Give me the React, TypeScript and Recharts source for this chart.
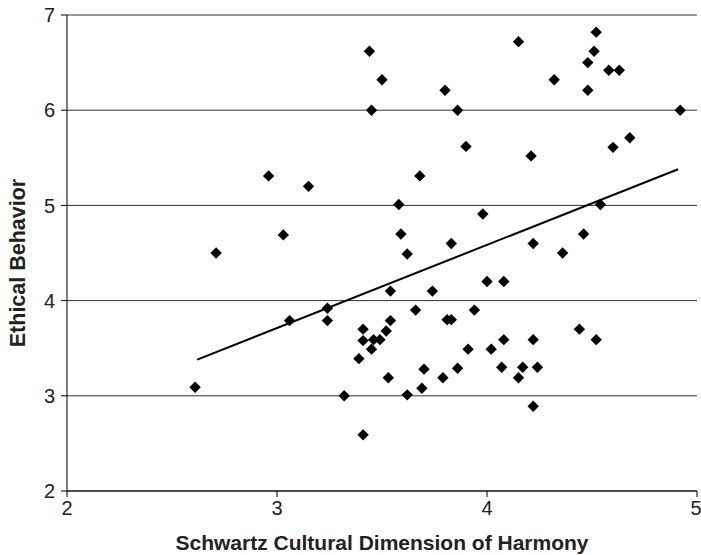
import { ScatterChart, Scatter, XAxis, YAxis, CartesianGrid } from 'recharts';

// harmony score per country (x) and ethical behavior (y)
const harmony = [
  2.61, 2.71, 2.96, 3.03, 3.06, 3.15, 3.24, 3.24, 3.32, 3.39,
  3.41, 3.41, 3.41, 3.44, 3.45, 3.45, 3.46, 3.49, 3.50, 3.52,
  3.53, 3.54, 3.54, 3.58, 3.59, 3.62, 3.62, 3.66, 3.68, 3.69,
  3.70, 3.74, 3.79, 3.80, 3.81, 3.83, 3.83, 3.86, 3.86, 3.90,
  3.91, 3.94, 3.98, 4.00, 4.02, 4.07, 4.08, 4.08, 4.15, 4.15,
  4.17, 4.21, 4.22, 4.22, 4.22, 4.24, 4.32, 4.36, 4.44, 4.46,
  4.48, 4.48, 4.51, 4.52, 4.52, 4.54, 4.58, 4.60, 4.63, 4.68,
  4.92,
];
const ethical = [
  3.09, 4.50, 5.31, 4.69, 3.79, 5.20, 3.92, 3.79, 3.00, 3.39,
  3.58, 2.59, 3.70, 6.62, 3.49, 6.00, 3.59, 3.59, 6.32, 3.68,
  3.19, 3.79, 4.10, 5.01, 4.70, 4.49, 3.01, 3.90, 5.31, 3.08,
  3.28, 4.10, 3.19, 6.21, 3.80, 4.60, 3.80, 3.29, 6.00, 5.62,
  3.49, 3.90, 4.91, 4.20, 3.49, 3.30, 4.20, 3.59, 6.72, 3.19,
  3.30, 5.52, 4.60, 3.59, 2.89, 3.30, 6.32, 4.50, 3.70, 4.70,
  6.21, 6.50, 6.62, 6.82, 3.59, 5.01, 6.42, 5.61, 6.42, 5.71,
  6.00,
];
// fitted regression line end points
const trendX = [2.62, 4.91];
const trendY = [3.38, 5.38];

const xTicks = [2, 3, 4, 5];
const yTicks = [2, 3, 4, 5, 6, 7];

const points = harmony.map((x, i) => ({ x, y: ethical[i] }));
const trend = trendX.map((x, i) => ({ x, y: trendY[i] }));

const font = '"Liberation Sans", Arial, sans-serif';

function Diamond(props: any) {
  const { cx, cy } = props;
  const r = 5.7;
  return <path d={`M${cx},${cy - r}L${cx + r},${cy}L${cx},${cy + r}L${cx - r},${cy}Z`} fill="#000" />;
}

export default function App() {
  return (
    <div style={{ position: 'fixed', left: 0, top: 0, background: '#fff' }}>
      <ScatterChart width={701} height={555} margin={{ top: 15, right: 4, bottom: 0, left: 0 }}>
        <CartesianGrid horizontal vertical={false} stroke="#333" strokeWidth={1} />
        <XAxis
          type="number"
          dataKey="x"
          domain={[2, 5]}
          ticks={xTicks}
          height={64}
          tickSize={6}
          tickMargin={4}
          stroke="#000"
          tick={{ fill: '#222', fontSize: 20, fontFamily: font }}
          label={{ value: 'Schwartz Cultural Dimension of Harmony', position: 'insideBottom', offset: 5, fill: '#222', fontSize: 21, fontWeight: 'bold', fontFamily: font }}
        />
        <YAxis
          type="number"
          dataKey="y"
          domain={[2, 7]}
          ticks={yTicks}
          width={67}
          tickSize={6}
          tickMargin={6}
          stroke="#000"
          tick={{ fill: '#222', fontSize: 20, fontFamily: font }}
          label={{ value: 'Ethical Behavior', angle: -90, position: 'insideLeft', offset: 17, dy: 10, fill: '#222', fontSize: 21.5, fontWeight: 'bold', fontFamily: font, style: { textAnchor: 'middle' } }}
        />
        <Scatter data={points} shape={Diamond} isAnimationActive={false} />
        <Scatter data={trend} line={{ stroke: '#000', strokeWidth: 2 }} shape={() => <g />} isAnimationActive={false} />
      </ScatterChart>
    </div>
  );
}
